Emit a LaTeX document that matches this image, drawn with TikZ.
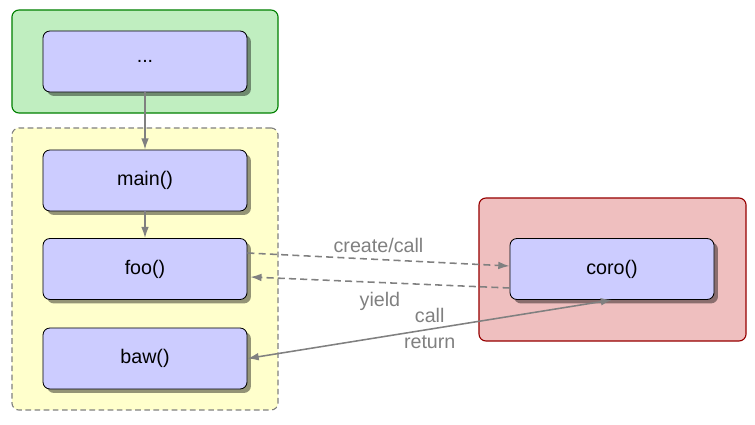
\documentclass[tikz,border=0pt]{standalone}
\usepackage{fontspec}
\setmainfont{Liberation Sans}
\usepackage{xcolor}
\usetikzlibrary{arrows.meta, positioning, shadows}

\definecolor{funcfill}{RGB}{204,204,255}
\definecolor{greenfill}{RGB}{192,238,192}
\definecolor{greenline}{RGB}{0,128,0}
\definecolor{yellowfill}{RGB}{255,255,204}
\definecolor{redfill}{RGB}{239,191,191}
\definecolor{redline}{RGB}{150,0,0}
\definecolor{linkgray}{RGB}{128,128,128}

\begin{document}
\begin{tikzpicture}[
    x=0.025cm, y=-0.025cm,
    % Styles
    group/.style={rectangle, rounded corners=5pt, line width=0.8pt, inner sep=0pt},
    func/.style={rectangle, rounded corners=5pt, draw=black, line width=0.6pt, fill=funcfill,
        minimum width=5.1cm, minimum height=1.525cm, inner sep=0pt,
        font=\fontsize{14}{16}\selectfont,
        drop shadow={shadow xshift=2.8pt, shadow yshift=-2.8pt, fill=black, opacity=0.42}},
    arrow/.style={-{Latex[length=8pt, width=5.5pt]}, line width=1.1pt, draw=linkgray},
    darrow/.style={arrow, dash pattern=on 5pt off 3pt},
    lbl/.style={font=\fontsize{14}{16}\selectfont, text=linkgray},
]
\useasboundingbox (0,0) rectangle (755,425);

% ===== CALLER STACK =====
\node[group, draw=greenline, fill=greenfill, minimum width=6.65cm, minimum height=2.575cm] (outer) at (145, 61.5) {};
\node[group, draw=linkgray, fill=yellowfill, dash pattern=on 4pt off 2.5pt, minimum width=6.65cm, minimum height=7.05cm] (stack) at (145, 269) {};

\node[func] (dots) at (145, 61.5) {...};
\node[func] (main) at (145, 180.5) {main()};
\node[func] (foo) at (145, 269) {foo()};
\node[func] (baw) at (145, 358.5) {baw()};

% ===== COROUTINE =====
\node[group, draw=redline, fill=redfill, minimum width=6.675cm, minimum height=3.575cm] (corobox) at (612.5, 269.5) {};
\node[func] (coro) at (612, 269) {coro()};

% ===== ARROWS =====
\draw[arrow] (dots.south) -- (main.north);
\draw[arrow] (main.south) -- (foo.north);

\draw[darrow] ([yshift=0.4cm]foo.east) -- ([yshift=0.075cm]coro.west) node[lbl, midway, above=1pt] {create/call};
\draw[darrow] ([yshift=-0.475cm]coro.west) -- ([yshift=-0.2cm, xshift=2pt]foo.east) node[lbl, midway, below=3pt] {yield};

\draw[arrow, {Latex[length=8pt, width=5.5pt]}-{Latex[length=8pt, width=5.5pt]}] (baw.east) -- (coro.south)
    node[lbl, midway, above=1pt] {call}
    node[lbl, midway, below=1pt] {return};

\end{tikzpicture}
\end{document}
